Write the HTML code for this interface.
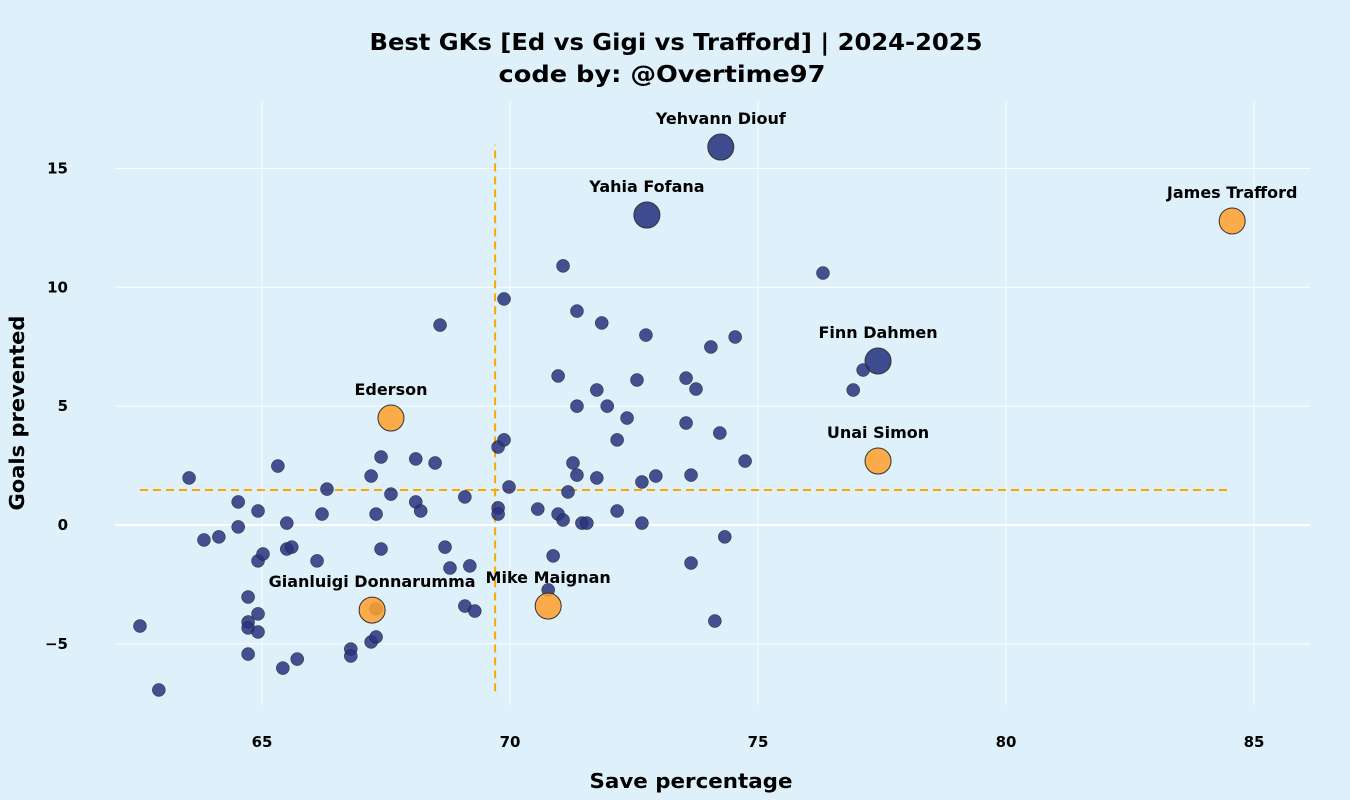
<!DOCTYPE html>
<html><head><meta charset="utf-8"><style>
html,body{margin:0;padding:0;background:#def0f9;}
svg{display:block;font-family:"DejaVu Sans","Liberation Sans",Arial,sans-serif;font-weight:bold;}
</style></head><body>
<svg id="chart" width="1350" height="800" viewBox="0 0 1350 800">
<rect width="1350" height="800" fill="#def0f9"/>
<text x="676" y="50" text-anchor="middle" font-size="23" textLength="613" lengthAdjust="spacingAndGlyphs" fill="#000">Best GKs [Ed vs Gigi vs Trafford] | 2024-2025</text>
<text x="662" y="82" text-anchor="middle" font-size="23" textLength="327" lengthAdjust="spacingAndGlyphs" fill="#000">code by: @Overtime97</text>
<text x="691" y="788" text-anchor="middle" font-size="20" textLength="203" lengthAdjust="spacingAndGlyphs" fill="#000">Save percentage</text>
<text transform="translate(24,413) rotate(-90)" text-anchor="middle" font-size="20" textLength="195" lengthAdjust="spacingAndGlyphs" fill="#000">Goals prevented</text>
<g id="grid"></g><g id="refs"></g><g id="marks"></g><g id="labels"></g>
</svg>
<script>
const xTicks=[65,70,75,80,85];
const yTicks=[-5,0,5,10,15];
const yTickLabels=["−5","0","5","10","15"];
const otherX=[62.54,62.92,63.53,63.83,64.13,64.52,64.52,64.72,64.72,64.72,64.72,64.92,64.92,64.92,64.92,65.02,65.32,65.42,65.5,65.5,65.6,65.71,66.11,66.21,66.31,66.79,66.79,67.2,67.2,67.3,67.3,67.3,67.4,67.4,67.6,68.1,68.1,68.2,68.49,68.59,68.69,68.79,69.09,69.09,69.19,69.29,69.76,69.76,69.76,69.88,69.88,69.98,70.56,70.77,70.87,70.97,70.97,71.07,71.07,71.17,71.27,71.35,71.35,71.35,71.45,71.55,71.75,71.75,71.85,71.96,72.16,72.16,72.36,72.56,72.66,72.66,72.74,72.94,73.55,73.55,73.65,73.65,73.75,74.05,74.13,74.23,74.33,74.54,74.74,76.31,76.92,77.12];
const otherY=[-4.25,-6.94,1.98,-0.63,-0.5,0.97,-0.08,-3.03,-4.08,-4.33,-5.43,0.59,-1.51,-3.74,-4.5,-1.22,2.48,-6.02,0.08,-1.01,-0.93,-5.64,-1.51,0.46,1.51,-5.22,-5.51,2.06,-4.92,0.46,-4.71,-3.53,2.86,-1.01,1.3,2.78,0.97,0.59,2.61,8.41,-0.93,-1.81,1.18,-3.41,-1.72,-3.62,3.28,0.72,0.46,9.51,3.58,1.6,0.67,-2.73,-1.3,6.27,0.46,10.9,0.21,1.39,2.61,9.0,5.0,2.1,0.08,0.08,5.68,1.98,8.5,5.0,3.58,0.59,4.5,6.1,1.81,0.08,7.99,2.06,6.18,4.29,2.1,-1.6,5.72,7.49,-4.04,3.87,-0.5,7.91,2.69,10.6,5.68,6.52];
const topNames=["Yehvann Diouf","Yahia Fofana","Finn Dahmen"];
const topX=[74.25,72.76,77.42];
const topY=[15.9,13.04,6.9];
const hlNames=["James Trafford","Ederson","Unai Simon","Gianluigi Donnarumma","Mike Maignan"];
const hlX=[84.56,67.6,77.42,67.22,70.77];
const hlY=[12.79,4.5,2.69,-3.58,-3.41];
const meanX=69.7, meanY=1.47;

const NS="http://www.w3.org/2000/svg";
const X=v=>262+(v-65)*49.6;
const Y=v=>525-v*23.77;
function mk(tag,attrs,parent,text){const e=document.createElementNS(NS,tag);for(const k in attrs)e.setAttribute(k,attrs[k]);if(text!==undefined)e.textContent=text;document.getElementById(parent).appendChild(e);return e;}
xTicks.forEach(t=>{
  const l=mk('line',{x1:X(t),x2:X(t),y1:100,y2:705,stroke:'#fff','stroke-width':1,opacity:0.8},'grid');
  
  
  const tx=mk('text',{x:X(t),y:747,'text-anchor':'middle','font-size':15},'grid',String(t));
  
  
});
yTicks.forEach((t,i)=>{
  const l=mk('line',{x1:115,x2:1310,y1:Y(t),y2:Y(t),stroke:'#fff','stroke-width':t===0?2:1},'grid');
  
  
  const tx=mk('text',{x:68,y:Y(t)+5,'text-anchor':'end','font-size':15},'grid',yTickLabels[i]);
  
  
});
const v=mk('line',{x1:X(meanX),x2:X(meanX),y1:Y(-7),y2:Y(16),stroke:'#ffa500','stroke-width':2,'stroke-dasharray':'8,5'},'refs');


const h=mk('line',{x1:X(62.54),x2:X(84.5),y1:Y(meanY),y2:Y(meanY),stroke:'#ffa500','stroke-width':2,'stroke-dasharray':'8,5'},'refs');


otherX.forEach((x,i)=>{
  const c=mk('circle',{cx:X(x),cy:Y(otherY[i]),r:6.5,fill:'#27337f','fill-opacity':0.85,stroke:'#222','stroke-width':0.5},'marks');
  
  
});
function big(names,xs,ys,fill,nm){
  names.forEach((n,i)=>{
    const c=mk('circle',{cx:X(xs[i]),cy:Y(ys[i]),r:13,fill:fill,'fill-opacity':0.88,stroke:'#333','stroke-width':1},'marks');
    
    
    const t=mk('text',{x:X(xs[i]),y:Y(ys[i])-23,'text-anchor':'middle','font-size':16,fill:'#000'},'labels',n);
    
    
  });
}
big(topNames,topX,topY,'#27337f','top-gk-point');
big(hlNames,hlX,hlY,'#ffa030','highlight-gk-point');
</script>
</body></html>
